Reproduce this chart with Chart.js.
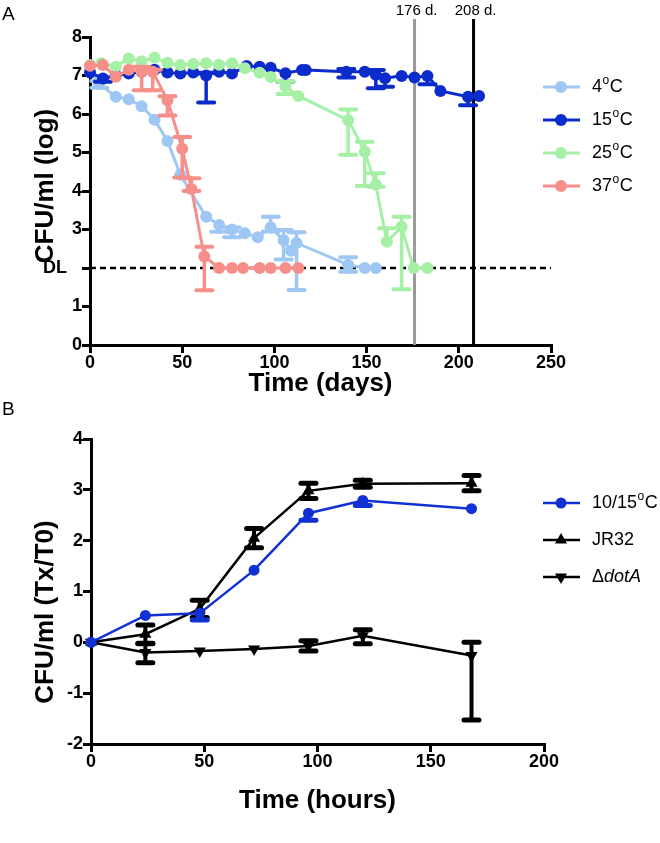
<!DOCTYPE html>
<html><head><meta charset="utf-8">
<script src="https://cdn.jsdelivr.net/npm/chart.js@4.4.1/dist/chart.umd.min.js"></script>
<style>
html,body{margin:0;padding:0;background:#fff;}
#wrap{position:relative;width:660px;height:843px;overflow:hidden;}
#cA{position:absolute;left:0;top:0;}
#cB{position:absolute;left:0;top:400px;}
</style></head><body>
<div id="wrap">
<canvas id="cA" width="660" height="400"></canvas>
<canvas id="cB" width="660" height="443"></canvas>
</div>
<script>
// ---------- Panel A data (days, log CFU/ml) ----------
const a4_days  = [0, 5, 14, 21, 28, 35, 42, 49, 63, 70, 77, 84, 91, 98, 105, 109, 112, 140, 149, 155];
const a4_vals  = [7.1, 6.78, 6.45, 6.38, 6.2, 5.85, 5.3, 4.42, 3.33, 3.12, 3.0, 2.9, 2.8, 3.05, 2.72, 2.45, 2.65, 2.08, 2.0, 2.0];
const a4_up    = [0, 0.08, 0, 0, 0, 0, 0, 0, 0, 0, 0.05, 0, 0, 0.28, 0.27, 0, 0.28, 0.2, 0, 0];
const a4_dn    = [0, 0.1, 0, 0, 0, 0, 0, 0, 0, 0.18, 0.2, 0, 0, 0.1, 0.5, 0, 1.22, 0.18, 0, 0];

const a15_days = [0, 7, 14, 21, 28, 35, 42, 49, 56, 63, 70, 77, 85, 92, 98, 106, 115, 117, 139, 149, 155, 160, 169, 176, 183, 190, 205, 211];
const a15_vals = [7.08, 6.92, 7.0, 7.05, 7.1, 7.15, 7.08, 7.05, 7.08, 7.0, 7.1, 7.05, 7.25, 7.23, 7.2, 7.06, 7.14, 7.14, 7.1, 7.1, 7.02, 6.93, 6.99, 6.95, 6.99, 6.6, 6.45, 6.47];
const a15_up   = [0, 0, 0, 0, 0, 0, 0, 0, 0, 0.07, 0, 0, 0, 0, 0, 0, 0, 0, 0.07, 0, 0.12, 0, 0, 0, 0, 0, 0, 0];
const a15_dn   = [0, 0.08, 0, 0, 0, 0, 0, 0, 0, 0.7, 0, 0, 0, 0, 0, 0.22, 0, 0, 0.15, 0, 0.35, 0.22, 0, 0, 0.22, 0, 0.22, 0];

const a25_days = [0, 6, 14, 21, 28, 35, 42, 49, 56, 63, 70, 77, 84, 92, 98, 106, 113, 140, 149, 155, 161, 169, 175.5, 183];
const a25_vals = [7.27, 7.32, 7.23, 7.44, 7.37, 7.46, 7.33, 7.27, 7.3, 7.32, 7.28, 7.32, 7.19, 7.07, 6.96, 6.72, 6.47, 5.84, 5.02, 4.16, 2.68, 3.07, 2.0, 2.0];
const a25_up   = [0, 0, 0, 0, 0, 0, 0, 0, 0, 0, 0, 0, 0, 0, 0, 0.12, 0, 0.28, 0.26, 0.3, 0.35, 0.26, 0, 0];
const a25_dn   = [0, 0, 0, 0, 0, 0, 0, 0, 0, 0, 0, 0, 0, 0, 0, 0.2, 0, 0.9, 0.89, 0.05, 0, 1.62, 0, 0];

const a37_days = [0, 7, 14, 21, 28, 34, 42, 50, 55, 62, 70, 77, 83, 92, 98, 106, 113];
const a37_vals = [7.25, 7.27, 6.97, 7.15, 7.1, 7.1, 6.36, 5.1, 4.05, 2.3, 2.0, 2.0, 2.0, 2.0, 2.0, 2.0, 2.0];
const a37_up   = [0, 0, 0, 0, 0.13, 0.05, 0.1, 0.3, 0.28, 0.25, 0, 0, 0, 0, 0, 0, 0];
const a37_dn   = [0, 0, 0, 0, 0.48, 0.48, 0.4, 0.75, 0.05, 0.88, 0, 0, 0, 0, 0, 0, 0];

const a_series = ['4', '15', '25', '37'];
const a_marks  = [176, 208];
const a_markLabels = ['176 d.', '208 d.'];
const a_DL = 2;

// ---------- Panel B data (hours, log Tx/T0) ----------
const b_hours  = [0, 24, 48, 72, 96, 120, 168];
const b1015    = [0, 0.53, 0.57, 1.42, 2.54, 2.79, 2.63];
const b1015_up = [0, 0, 0, 0, 0, 0, 0];
const b1015_dn = [0, 0, 0.13, 0, 0.14, 0.1, 0];
const bJR32    = [0, 0.16, 0.66, 2.05, 2.98, 3.12, 3.13];
const bJR32_e  = [0, 0.18, 0.17, 0.19, 0.15, 0.07, 0.15];
const bDot     = [0, -0.2, -0.17, -0.13, -0.07, 0.13, -0.26];
const bDot_up  = [0, 0.17, 0, 0, 0.1, 0.12, 0.26];
const bDot_dn  = [0, 0.2, 0, 0, 0.1, 0.16, 1.27];

const FONT = "'Liberation Sans', Arial, Helvetica, sans-serif";
const C4 = '#9fc7f3', C15 = '#0b2ccb', C25 = '#a6f0a6', C37 = '#f68f89', CB = '#1231d3';

function pts(xs, ys) { return xs.map((x, i) => ({x: x, y: ys[i]})); }

const errPlugin = {
  id: 'errbars',
  afterDatasetDraw(chart, args) {
    const ds = chart.data.datasets[args.index];
    if (!ds.errUp) return;
    const xs = chart.scales.x, ys = chart.scales.y, ctx = chart.ctx;
    ctx.save();
    ctx.strokeStyle = ds.borderColor;
    ctx.lineCap = 'round';
    ds.data.forEach((p, i) => {
      const up = ds.errUp[i] || 0, dn = ds.errDn[i] || 0;
      if (!up && !dn) return;
      const px = xs.getPixelForValue(p.x);
      const yT = ys.getPixelForValue(p.y + up), yB = ys.getPixelForValue(p.y - dn);
      ctx.lineWidth = ds.errW;
      ctx.beginPath(); ctx.moveTo(px, yT); ctx.lineTo(px, yB); ctx.stroke();
      ctx.lineWidth = ds.capT;
      const cw = ds.capW / 2;
      if (up) { ctx.beginPath(); ctx.moveTo(px - cw, yT); ctx.lineTo(px + cw, yT); ctx.stroke(); }
      if (dn) { ctx.beginPath(); ctx.moveTo(px - cw, yB); ctx.lineTo(px + cw, yB); ctx.stroke(); }
    });
    ctx.restore();
  }
};

function degLabel(ctx, x, y, num) {
  ctx.font = '18px ' + FONT; ctx.textBaseline = 'middle'; ctx.textAlign = 'left';
  ctx.fillText(num, x, y);
  const w = ctx.measureText(num).width;
  ctx.font = '12px ' + FONT;
  ctx.fillText('o', x + w + 0.5, y - 6.5);
  const w2 = ctx.measureText('o').width;
  ctx.font = '18px ' + FONT;
  ctx.fillText('C', x + w + w2 + 1, y);
}

function vTitle(ctx, text, x, y) {
  ctx.save();
  ctx.translate(x, y); ctx.rotate(-Math.PI / 2);
  ctx.font = 'bold 26px ' + FONT; ctx.textAlign = 'center'; ctx.textBaseline = 'middle'; ctx.fillStyle = '#000';
  ctx.fillText(text, 0, 0);
  ctx.restore();
}

function tri(ctx, x, y, r, down) {
  ctx.beginPath();
  let rad = down ? Math.PI : 0;
  for (let k = 0; k < 3; k++) {
    const px = x + Math.sin(rad) * r, py = y - Math.cos(rad) * r;
    if (k === 0) ctx.moveTo(px, py); else ctx.lineTo(px, py);
    rad += 2 * Math.PI / 3;
  }
  ctx.closePath(); ctx.fill();
}

const LX0 = 543, LX1 = 580, LXM = 561, LXT = 592;

const refPlugin = {
  id: 'refA',
  beforeDatasetsDraw(chart) {
    const ctx = chart.ctx, xs = chart.scales.x, ys = chart.scales.y, ca = chart.chartArea;
    ctx.save();
    ctx.strokeStyle = '#000'; ctx.lineWidth = 2.5; ctx.setLineDash([6, 4]);
    const yd = ys.getPixelForValue(a_DL);
    ctx.beginPath(); ctx.moveTo(ca.left, yd); ctx.lineTo(ca.right, yd); ctx.stroke();
    ctx.setLineDash([]);
    const cols = ['#9a9a9a', '#000'];
    a_marks.forEach((d, i) => {
      const px = xs.getPixelForValue(d);
      ctx.strokeStyle = cols[i]; ctx.lineWidth = 3;
      ctx.beginPath(); ctx.moveTo(px, 19); ctx.lineTo(px, ca.bottom); ctx.stroke();
    });
    ctx.restore();
  },
  afterDraw(chart) {
    const ctx = chart.ctx, xs = chart.scales.x;
    ctx.save();
    ctx.fillStyle = '#000';
    ctx.font = '15px ' + FONT; ctx.textAlign = 'center'; ctx.textBaseline = 'middle';
    a_marks.forEach((d, i) => {
      const px = xs.getPixelForValue(d);
      ctx.fillText(a_markLabels[i], px + 2, 11);
    });
    ctx.font = '19px ' + FONT; ctx.textAlign = 'left'; ctx.textBaseline = 'alphabetic';
    ctx.fillText('A', 2, 20);
    vTitle(ctx, 'CFU/ml (log)', 46, 186);
    const cols = [C4, C15, C25, C37];
    const ly = [87, 120, 153, 186];
    cols.forEach((c, i) => {
      ctx.strokeStyle = c; ctx.fillStyle = c; ctx.lineWidth = 3;
      ctx.beginPath(); ctx.moveTo(LX0, ly[i]); ctx.lineTo(LX1, ly[i]); ctx.stroke();
      ctx.beginPath(); ctx.arc(LXM, ly[i], 6, 0, Math.PI * 2); ctx.fill();
      ctx.fillStyle = '#000';
      degLabel(ctx, LXT, ly[i], a_series[i]);
    });
    ctx.restore();
  }
};

function axisOpts(min, max, step, title, isY, tickCb, titlePad) {
  return {
    type: 'linear', min: min, max: max,
    ticks: {stepSize: step, autoSkip: false, maxRotation: 0, color: '#000',
      font: {family: FONT, size: 18, weight: 'bold'}, padding: isY ? 0 : -1,
      callback: tickCb || ((v) => String(v))},
    grid: {display: true, drawOnChartArea: false, drawTicks: true, tickLength: 8, lineWidth: 3, color: '#000'},
    border: {display: true, width: 3, color: '#000'},
    title: {display: !isY, text: title, color: '#000', font: {family: FONT, size: 26, weight: 'bold'}, padding: titlePad}
  };
}

function mkDs(xs, ys, up, dn, color, order, r, lw) {
  return {data: pts(xs, ys), borderColor: color, backgroundColor: color, pointBackgroundColor: color,
    pointBorderColor: color, pointRadius: r, pointBorderWidth: 0, borderWidth: lw, order: order,
    clip: false, tension: 0, errUp: up, errDn: dn, errW: 3.5, capT: 4, capW: 16};
}

// ---------- Chart A ----------
const xA = axisOpts(0, 250, 50, 'Time (days)', false, null, {top: 0, bottom: 1});
xA.afterFit = (s) => { s.height = 55; };
const yA = axisOpts(0, 8, 1, 'CFU/ml (log)', true, (v) => v === a_DL ? 'DL   ' : String(v), {top: 0, bottom: 0});
yA.afterFit = (s) => { s.width = 90; };

new Chart(document.getElementById('cA'), {
  type: 'line',
  data: {datasets: [
    mkDs(a37_days, a37_vals, a37_up, a37_dn, C37, 1, 6, 3),
    mkDs(a25_days, a25_vals, a25_up, a25_dn, C25, 2, 6, 3),
    mkDs(a15_days, a15_vals, a15_up, a15_dn, C15, 3, 6, 3),
    mkDs(a4_days, a4_vals, a4_up, a4_dn, C4, 4, 6, 3)
  ]},
  options: {
    responsive: false, animation: false, events: [],
    layout: {padding: {left: 0, top: 37, right: 109, bottom: 0}},
    plugins: {legend: {display: false}, tooltip: {enabled: false}},
    scales: {x: xA, y: yA}
  },
  plugins: [refPlugin, errPlugin]
});

// ---------- Chart B ----------
const legB = {
  id: 'legB',
  afterDraw(chart) {
    const ctx = chart.ctx;
    ctx.save();
    ctx.font = '19px ' + FONT; ctx.textAlign = 'left'; ctx.textBaseline = 'alphabetic'; ctx.fillStyle = '#000';
    ctx.fillText('B', 2, 15);
    vTitle(ctx, 'CFU/ml (Tx/T0)', 46, 212);
    const ly = [103, 140, 177];
    ctx.strokeStyle = CB; ctx.fillStyle = CB; ctx.lineWidth = 2.5;
    ctx.beginPath(); ctx.moveTo(LX0, ly[0]); ctx.lineTo(LX1, ly[0]); ctx.stroke();
    ctx.beginPath(); ctx.arc(LXM, ly[0], 5.5, 0, Math.PI * 2); ctx.fill();
    ctx.fillStyle = '#000';
    degLabel(ctx, LXT, ly[0], '10/15');
    ctx.strokeStyle = '#000';
    ctx.beginPath(); ctx.moveTo(LX0, ly[1]); ctx.lineTo(LX1, ly[1]); ctx.stroke();
    tri(ctx, LXM, ly[1], 7, false);
    ctx.font = '18px ' + FONT; ctx.textBaseline = 'middle';
    ctx.fillText('JR32', LXT, ly[1]);
    ctx.beginPath(); ctx.moveTo(LX0, ly[2]); ctx.lineTo(LX1, ly[2]); ctx.stroke();
    tri(ctx, LXM, ly[2], 7, true);
    ctx.font = '18px ' + FONT;
    ctx.fillText('\u0394', LXT, ly[2]);
    const w = ctx.measureText('\u0394').width;
    ctx.font = 'italic 18px ' + FONT;
    ctx.fillText('dotA', LXT + w, ly[2]);
    ctx.restore();
  }
};

const xB = axisOpts(0, 200, 50, 'Time (hours)', false, null, {top: 0, bottom: 27});
xB.afterFit = (s) => { s.height = 99; };
const yB = axisOpts(-2, 4, 1, 'CFU/ml (Tx/T0)', true, null, {top: 0, bottom: 0});
yB.afterFit = (s) => { s.width = 91; };

const dsB1 = mkDs(b_hours, b1015, b1015_up, b1015_dn, CB, 1, 5.5, 2.5);
const dsB2 = mkDs(b_hours, bJR32, bJR32_e, bJR32_e, '#000', 2, 7, 2.5);
dsB2.pointStyle = 'triangle';
const dsB3 = mkDs(b_hours, bDot, bDot_up, bDot_dn, '#000', 3, 7, 2.5);
dsB3.pointStyle = 'triangle'; dsB3.pointRotation = 180;
[dsB1, dsB2, dsB3].forEach(d => { d.errW = 4; d.capT = 5; d.capW = 15; });

new Chart(document.getElementById('cB'), {
  type: 'line',
  data: {datasets: [dsB1, dsB2, dsB3]},
  options: {
    responsive: false, animation: false, events: [],
    layout: {padding: {left: 0, top: 39, right: 116, bottom: 0}},
    plugins: {legend: {display: false}, tooltip: {enabled: false}},
    scales: {x: xB, y: yB}
  },
  plugins: [legB, errPlugin]
});
</script>
</body></html>
